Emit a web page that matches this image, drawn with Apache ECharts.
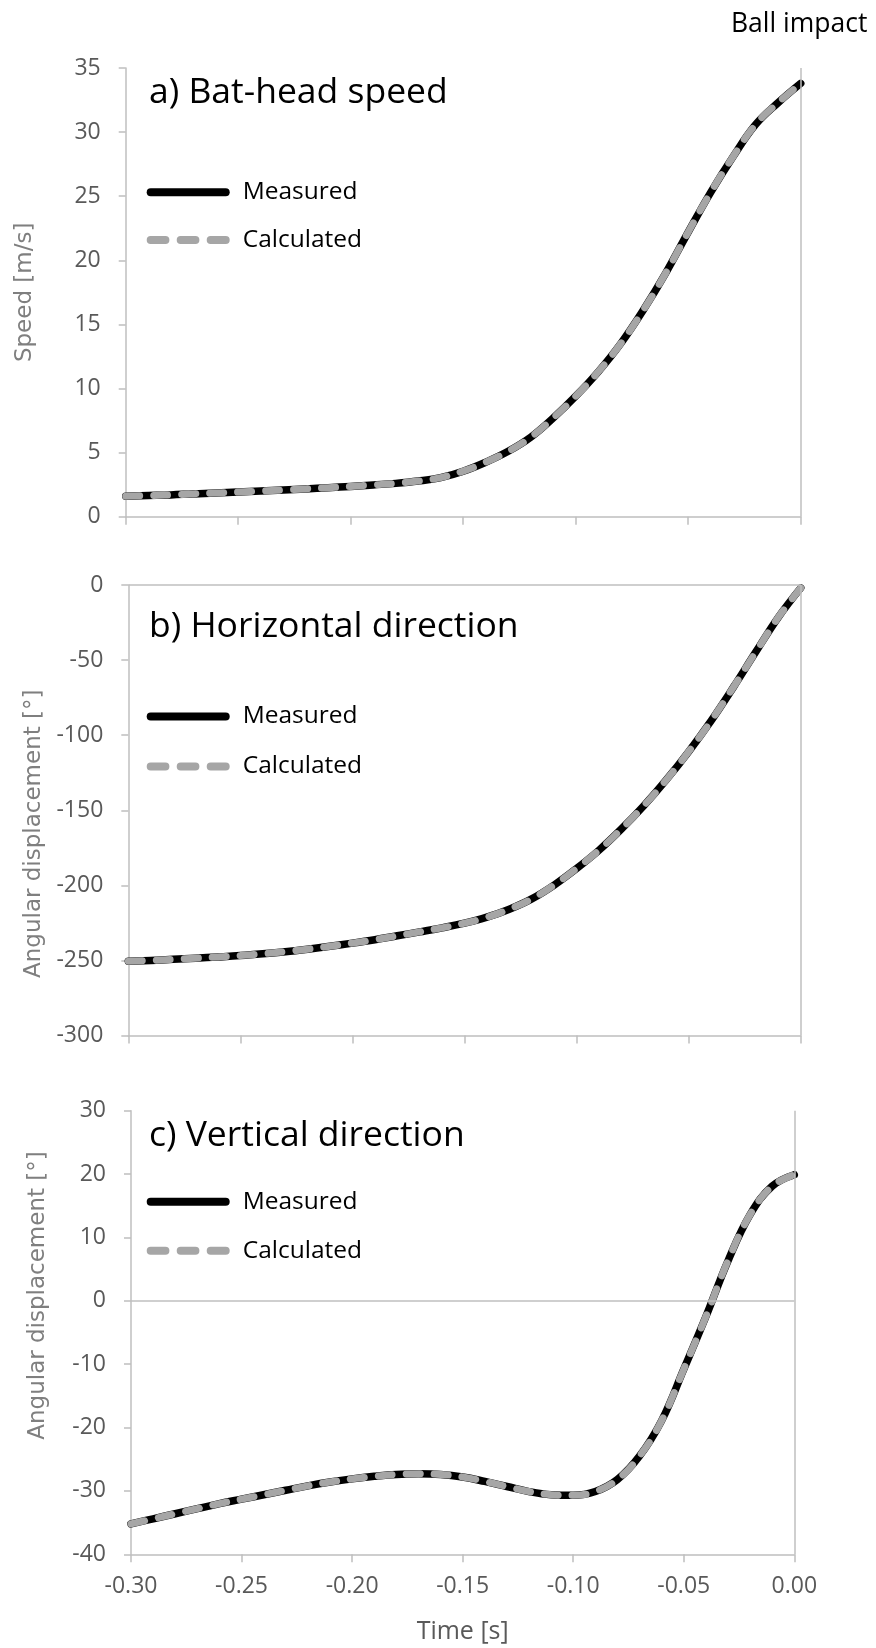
<!DOCTYPE html>
<html>
<head>
<meta charset="utf-8">
<script src="https://cdn.jsdelivr.net/npm/echarts@6/dist/echarts.min.js"></script>
<style>
  html, body { margin: 0; padding: 0; background: #ffffff; }
  #chart { width: 876px; height: 1648px; }
</style>
</head>
<body>
<div id="chart"></div>
<script>
// Time before ball impact [s]
const timeSec = [-0.30, -0.29, -0.28, -0.27, -0.26, -0.25, -0.24, -0.23, -0.22, -0.21,
                 -0.20, -0.19, -0.18, -0.17, -0.16, -0.15, -0.14, -0.13, -0.12, -0.11,
                 -0.10, -0.09, -0.08, -0.07, -0.06, -0.05, -0.04, -0.03, -0.02, -0.01, 0.00];

// a) Bat-head speed [m/s]
const speedMeasured   = [1.6, 1.65, 1.7, 1.78, 1.85, 1.92, 2.0, 2.08, 2.17, 2.26,
                         2.36, 2.48, 2.6, 2.78, 3.05, 3.55, 4.25, 5.1, 6.2, 7.7,
                         9.4, 11.3, 13.5, 16.1, 19.0, 22.2, 25.3, 28.1, 30.6, 32.3, 33.8];
const speedCalculated = [1.6, 1.65, 1.7, 1.78, 1.85, 1.92, 2.0, 2.08, 2.17, 2.26,
                         2.36, 2.48, 2.6, 2.78, 3.05, 3.55, 4.25, 5.1, 6.2, 7.7,
                         9.4, 11.3, 13.5, 16.1, 19.0, 22.2, 25.3, 28.1, 30.6, 32.3, 33.8];

// b) Horizontal direction, angular displacement [deg]
const horizMeasured   = [-250.5, -250, -249.3, -248.5, -247.7, -246.8, -245.6, -244.2, -242.5, -240.6,
                         -238.5, -236.2, -233.6, -231, -228.3, -225.2, -221.2, -215.9, -209.0, -199.8,
                         -188.8, -176.6, -162.5, -147, -129.8, -111, -90.5, -68, -44.5, -21.5, -2];
const horizCalculated = [-250.5, -250, -249.3, -248.5, -247.7, -246.8, -245.6, -244.2, -242.5, -240.6,
                         -238.5, -236.2, -233.6, -231, -228.3, -225.2, -221.2, -215.9, -209.0, -199.8,
                         -188.8, -176.6, -162.5, -147, -129.8, -111, -90.5, -68, -44.5, -21.5, -2];

// c) Vertical direction, angular displacement [deg]
const vertMeasured    = [-35.2, -34.4, -33.6, -32.8, -32.0, -31.3, -30.6, -29.9, -29.2, -28.6,
                         -28.1, -27.7, -27.4, -27.3, -27.4, -27.8, -28.5, -29.3, -30.1, -30.6,
                         -30.7, -30.1, -28.2, -24.5, -18.9, -10.8, -2.5, 6.3, 13.6, 18.1, 19.9];
const vertCalculated  = [-35.2, -34.4, -33.6, -32.8, -32.0, -31.3, -30.6, -29.9, -29.2, -28.6,
                         -28.1, -27.7, -27.4, -27.3, -27.4, -27.8, -28.5, -29.3, -30.1, -30.6,
                         -30.7, -30.1, -28.2, -24.5, -18.9, -10.8, -2.5, 6.3, 13.6, 18.1, 19.9];

const panelTitles = ['a) Bat-head speed', 'b) Horizontal direction', 'c) Vertical direction'];
const yAxisNames = ['Speed [m/s]', 'Angular displacement [°]', 'Angular displacement [°]'];
const yRanges = [[0, 35, 5], [-300, 0, 50], [-40, 30, 10]];
const xAxisName = 'Time [s]';
const impactLabel = 'Ball impact';
const seriesNames = ['Measured', 'Calculated'];

const panels = [
  { measured: speedMeasured, calculated: speedCalculated },
  { measured: horizMeasured, calculated: horizCalculated },
  { measured: vertMeasured,  calculated: vertCalculated }
];

// ---- layout / styling ----
const AXIS_GRAY = '#bfbfbf';
const TICK_TEXT = '#595959';
const grids = [
  { left: 125.7, top: 68,     width: 675,   height: 448.7 },
  { left: 128.3, top: 585,    width: 672.4, height: 450.5 },
  { left: 131,   top: 1110.7, width: 663.3, height: 443.6 }
];
const titleTops = [74.75, 608.75, 1118.25];
const legendTops = [179.8, 704, 1189.2];
const legendGaps = [22.7, 25, 24];
const nameGaps = [89, 82, 81.5];
const namePads = [[0, 0, 0, 0], [0, 47, 0, 0], [0, 0, 0, 74]];

const measuredIcon = 'path://M4 0L79 0A4 4 0 0 1 79 8L4 8A4 4 0 0 1 4 0Z';
const calculatedIcon = 'path://M4 0L18.7 0A4 4 0 0 1 18.7 8L4 8A4 4 0 0 1 4 0Z' +
                       'M34 0L48.7 0A4 4 0 0 1 48.7 8L34 8A4 4 0 0 1 34 0Z' +
                       'M64 0L79 0A4 4 0 0 1 79 8L64 8A4 4 0 0 1 64 0Z';

const toPairs = (ys) => timeSec.map((t, i) => [t, ys[i]]);

const option = {
  backgroundColor: '#ffffff',
  animation: false,
  title: panelTitles.map((txt, i) => ({
    text: txt,
    left: 149,
    top: titleTops[i],
    padding: 0,
    textStyle: { fontFamily: 'Open Sans', fontSize: 35.5, lineHeight: 35.5, fontWeight: 'normal', color: '#000000' }
  })).concat([{
    text: impactLabel,
    left: 731,
    top: 10.75,
    padding: 0,
    textStyle: { fontFamily: 'Open Sans', fontSize: 26.5, lineHeight: 26.5, fontWeight: 'normal', color: '#000000' }
  }]),
  legend: grids.map((g, i) => ({
    orient: 'vertical',
    left: 146.7,
    top: legendTops[i],
    padding: 0,
    itemGap: legendGaps[i],
    itemWidth: 83,
    itemHeight: 8,
    selectedMode: false,
    textStyle: { fontFamily: 'Open Sans', fontSize: 24.5, lineHeight: 25, color: '#000000', padding: [0, 0, 0, 8] },
    data: [
      { name: seriesNames[0], icon: measuredIcon, itemStyle: { color: '#000000', borderWidth: 0 } },
      { name: seriesNames[1], icon: calculatedIcon, itemStyle: { color: '#a6a6a6', borderWidth: 0 } }
    ]
  })),
  grid: grids.map(g => Object.assign({ containLabel: false, outerBoundsMode: 'none' }, g)),
  xAxis: grids.map((g, i) => ({
    type: 'value',
    gridIndex: i,
    min: -0.3,
    max: 0,
    interval: 0.05,
    axisLine: { show: true, onZero: false, lineStyle: { color: AXIS_GRAY, width: 1.5 } },
    axisTick: { show: true, inside: false, length: 8, lineStyle: { color: AXIS_GRAY, width: 1.5 } },
    splitLine: { show: false },
    axisLabel: {
      show: i === 2,
      margin: 21,
      fontFamily: 'Open Sans',
      fontSize: 23,
      lineHeight: 23,
      color: TICK_TEXT,
      formatter: (v) => v.toFixed(2)
    },
    name: i === 2 ? xAxisName : '',
    nameLocation: 'middle',
    nameGap: 65,
    nameTextStyle: { fontFamily: 'Open Sans', fontSize: 25, lineHeight: 25, color: TICK_TEXT }
  })),
  yAxis: grids.map((g, i) => ({
    type: 'value',
    gridIndex: i,
    min: yRanges[i][0],
    max: yRanges[i][1],
    interval: yRanges[i][2],
    axisLine: { show: true, onZero: false, lineStyle: { color: AXIS_GRAY, width: 1.5 } },
    axisTick: { show: true, inside: false, length: 7, lineStyle: { color: AXIS_GRAY, width: 1.5 } },
    splitLine: { show: false },
    axisLabel: { margin: 25, fontFamily: 'Open Sans', fontSize: 23, lineHeight: 23, color: TICK_TEXT },
    name: yAxisNames[i],
    nameLocation: 'middle',
    nameRotate: 90,
    nameGap: nameGaps[i],
    nameTextStyle: {
      fontFamily: 'DejaVu Sans', fontSize: 23, lineHeight: 23, color: '#7f7f7f',
      padding: namePads[i]
    }
  })),
  series: panels.flatMap((p, i) => [
    {
      name: seriesNames[0],
      type: 'line',
      xAxisIndex: i,
      yAxisIndex: i,
      data: toPairs(p.measured),
      smooth: 0.4,
      showSymbol: false,
      symbol: 'none',
      silent: true,
      z: 2,
      itemStyle: { color: '#000000' },
      lineStyle: { color: '#000000', width: 7.5, cap: 'round', join: 'round' },
      markLine: {
        silent: true,
        symbol: ['none', 'none'],
        label: { show: false },
        emphasis: { disabled: true },
        lineStyle: { color: AXIS_GRAY, width: 1.5, type: 'solid' },
        data: i === 0 ? [{ xAxis: 0 }] : [{ xAxis: 0 }, { yAxis: 0 }]
      }
    },
    {
      name: seriesNames[1],
      type: 'line',
      xAxisIndex: i,
      yAxisIndex: i,
      data: toPairs(p.calculated),
      smooth: 0.4,
      showSymbol: false,
      symbol: 'none',
      silent: true,
      z: 3,
      itemStyle: { color: '#a6a6a6' },
      lineStyle: { color: '#a6a6a6', width: 7, type: [14, 14], cap: 'round', join: 'round' }
    }
  ])
};

const chart = echarts.init(document.getElementById('chart'), null, { renderer: 'canvas' });
chart.setOption(option);
</script>
</body>
</html>
